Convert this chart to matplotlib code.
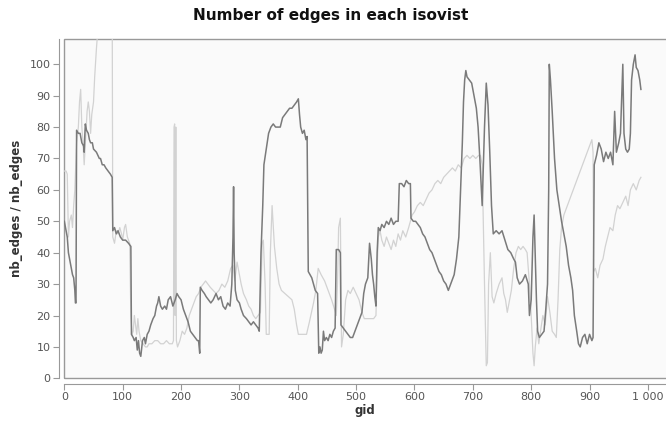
import matplotlib
matplotlib.use('Agg')
import matplotlib.pyplot as plt
from matplotlib.patches import Rectangle
from matplotlib.ticker import FuncFormatter

# dark series: nb_edges
dark_gid = [0, 3, 5, 7, 10, 12, 14, 16, 18, 19, 20, 21, 24, 27, 30, 33, 34, 35, 36, 38, 41, 43, 45, 48, 50,
            55, 60, 62, 65, 68, 71, 75, 79, 82, 83, 86, 89, 92, 96, 100, 105, 110, 114, 115, 118, 120, 123,
            125, 127, 129, 131, 134, 137, 139, 142, 145, 148, 152, 155, 158, 160, 162, 165, 168, 172, 175,
            178, 182, 186, 190, 193, 196, 200, 204, 208, 212, 216, 220, 224, 228, 230, 232, 233, 236, 240,
            243, 247, 251, 255, 260, 264, 268, 272, 276, 280, 284, 287, 289, 290, 291, 293, 296, 300, 303,
            307, 312, 316, 320, 324, 328, 332, 334, 337, 340, 342, 346, 350, 354, 358, 362, 366, 370, 374,
            378, 382, 386, 390, 394, 398, 401, 403, 405, 408, 411, 414, 416, 418, 421, 424, 427, 430, 434,
            436, 438, 440, 442, 444, 446, 449, 452, 455, 458, 461, 464, 466, 470, 473, 474, 478, 482, 486,
            490, 494, 498, 502, 506, 510, 513, 516, 520, 523, 526, 528, 530, 532, 534, 536, 538, 541, 544,
            548, 552, 556, 560, 564, 568, 572, 574, 578, 582, 586, 590, 593, 594, 598, 602, 606, 610, 614,
            618, 622, 626, 630, 634, 638, 642, 646, 650, 654, 658, 660, 664, 668, 672, 676, 678, 680, 682,
            684, 686, 688, 690, 694, 698, 702, 706, 709, 712, 716, 720, 723, 726, 729, 732, 735, 740, 745,
            750, 755, 760, 765, 770, 773, 776, 780, 785, 790, 795, 797, 800, 803, 805, 807, 809, 811, 814,
            818, 822, 825, 828, 830, 831, 833, 836, 840, 844, 848, 852, 856, 860, 864, 868, 871, 874, 878,
            881, 884, 888, 892, 896, 900, 904, 906, 908, 912, 916, 920, 924, 928, 932, 936, 940, 943, 946,
            950, 953, 957, 959, 962, 965, 968, 970, 972, 975, 978, 980, 983, 986, 988]
dark_val = [50, 47, 45, 40, 37, 35, 33, 32, 28, 24, 24, 79, 78, 78, 75, 74, 72, 77, 81, 79, 78, 76, 75, 75, 73,
            72, 70, 70, 68, 68, 67, 66, 65, 64, 47, 48, 46, 47, 45, 44, 44, 43, 42, 14, 13, 12, 13,
            9, 12, 8, 7, 12, 13, 11, 14, 15, 17, 19, 20, 23, 24, 26, 23, 22, 23, 22,
            25, 26, 23, 25, 27, 26, 25, 22, 20, 18, 15, 14, 13, 12, 12, 8, 29, 28, 27,
            26, 25, 24, 25, 27, 25, 26, 23, 22, 24, 23, 30, 45, 61, 40, 28, 25, 24, 22,
            20, 19, 18, 17, 18, 17, 16, 15, 40, 55, 68, 73, 78, 80, 81, 80, 80, 80, 83,
            84, 85, 86, 86, 87, 88, 89, 84, 80, 78, 79, 76, 77, 34, 33, 32, 30, 28, 27,
            8, 10, 8, 9, 15, 12, 13, 12, 14, 13, 15, 16, 41, 41, 40, 17, 16, 15, 14,
            13, 13, 15, 17, 19, 21, 27, 30, 32, 43, 38, 33, 30, 26, 23, 40, 48, 47, 49,
            48, 50, 49, 51, 49, 50, 50, 62, 62, 61, 63, 62, 62, 51, 50, 50, 49, 48, 46,
            45, 43, 41, 40, 38, 36, 34, 33, 31, 30, 28, 29, 31, 33, 38, 45, 55, 65, 75,
            88, 95, 98, 96, 95, 94, 90, 86, 80, 70, 55, 80, 94, 87, 72, 55, 46, 47, 46,
            47, 44, 41, 40, 38, 37, 32, 30, 31, 33, 30, 20, 25, 45, 52, 38, 25, 15, 13,
            14, 15, 22, 30, 60, 100, 95, 85, 70, 60, 55, 50, 46, 42, 36, 32, 28, 20, 15,
            11, 10, 13, 14, 11, 14, 12, 13, 68, 71, 75, 73, 69, 72, 70, 72, 68, 85, 72,
            75, 78, 100, 78, 73, 72, 73, 78, 95, 100, 103, 99, 98, 95, 92]

# light series
light_gid = [0, 3, 5, 7, 9, 12, 14, 16, 18, 21, 24, 26, 28, 30, 32, 34, 36, 39, 41, 43, 45, 47, 50, 52, 55,
             57, 60, 70, 80, 82, 83, 86, 89, 92, 95, 98, 100, 103, 105, 108, 112, 114, 116, 118, 120, 122,
             124, 126, 128, 131, 135, 139, 142, 145, 150, 155, 160, 165, 170, 175, 180, 185, 187, 188, 189,
             190, 191, 192, 194, 198, 202, 206, 210, 214, 218, 222, 226, 230, 234, 238, 242, 246, 250, 255,
             260, 265, 270, 275, 280, 285, 289, 292, 296, 300, 303, 307, 312, 316, 320, 324, 328, 332, 336,
             339, 341, 344, 346, 351, 353, 356, 360, 364, 368, 372, 378, 384, 390, 394, 398, 401, 415, 420,
             427, 431, 435, 440, 446, 452, 458, 463, 466, 468, 470, 473, 475, 478, 482, 486, 490, 495, 500,
             505, 510, 514, 520, 530, 534, 536, 538, 541, 544, 548, 552, 556, 560, 564, 568, 572, 576, 580,
             585, 590, 596, 600, 605, 610, 615, 620, 625, 630, 635, 640, 645, 650, 655, 660, 665, 670, 675,
             680, 685, 690, 695, 700, 705, 710, 713, 716, 720, 723, 725, 727, 730, 733, 736, 740, 745, 750,
             753, 756, 759, 762, 766, 770, 774, 778, 782, 786, 790, 793, 797, 800, 803, 805, 807, 810, 813,
             816, 820, 824, 828, 832, 836, 840, 843, 846, 849, 852, 856, 860, 864, 868, 872, 876, 880, 884,
             888, 892, 896, 900, 904, 906, 907, 910, 914, 918, 923, 927, 931, 935, 940, 944, 948, 952, 957,
             962, 966, 970, 975, 980, 985, 988]
light_val = [66, 66, 65, 45, 50, 52, 48, 55, 60, 75, 80, 88, 92, 80, 75, 68, 75, 85, 88, 85, 78, 84, 88, 96, 105,
             110, 125, 130, 130, 120, 45, 43, 47, 46, 48, 46, 44, 48, 49, 45, 43, 20, 14, 15, 20, 17,
             14, 19, 15, 12, 11, 10, 10, 11, 11, 12, 12, 11, 11, 12, 11, 11, 12, 80, 81,
             20, 80, 12, 10, 12, 15, 14, 16, 20, 22, 24, 26, 27, 29, 30, 31, 30, 29, 28,
             27, 28, 30, 29, 31, 35, 36, 31, 37, 33, 30, 27, 25, 23, 22, 20, 19, 20, 21,
             43, 44, 30, 14, 14, 40, 55, 42, 35, 30, 28, 27, 26, 25, 22, 17, 14, 14, 18,
             24, 28, 35, 33, 31, 28, 25, 22, 20, 30, 48, 51, 10, 14, 25, 28, 27, 29, 27,
             25, 21, 19, 19, 19, 20, 35, 45, 47, 44, 42, 45, 43, 41, 44, 42, 46, 44, 47,
             45, 48, 52, 53, 55, 56, 55, 57, 59, 60, 62, 63, 62, 64, 65, 66, 67, 66, 68,
             67, 70, 71, 70, 71, 70, 71, 71, 68, 30, 4, 5, 30, 40, 26, 24, 27, 30, 32,
             27, 25, 21, 24, 28, 35, 40, 42, 41, 42, 41, 40, 30, 20, 8, 4, 10, 16, 11,
             15, 20, 17, 26, 21, 15, 14, 13, 25, 41, 48, 52, 54, 56, 58, 60, 62, 64, 66,
             68, 70, 72, 74, 76, 72, 34, 35, 32, 36, 38, 42, 45, 48, 47, 52, 55, 54, 56,
             58, 55, 60, 62, 60, 63, 64]

fig = plt.figure(figsize=(6.66, 4.21), dpi=100)
ax = fig.add_axes([0.0966, 0.1014, 0.9034, 0.8056])
ax.set_facecolor('#fafafa')

ax.plot(light_gid, light_val, color='#d2d2d2', lw=0.9)
ax.plot(dark_gid, dark_val, color='#7a7a7a', lw=1.1)

ax.set_xlim(0, 1031)
ax.set_ylim(0, 108)
ax.set_xticks(range(0, 1001, 100))
ax.set_yticks(range(0, 101, 10))
ax.xaxis.set_major_formatter(FuncFormatter(lambda v, p: f'{int(v):,}'.replace(',', ' ')))

for s in ['top', 'right']:
    ax.spines[s].set_visible(False)
for s in ['left', 'bottom']:
    ax.spines[s].set_position(('outward', 4))
    ax.spines[s].set_color('#999999')
ax.tick_params(colors='#999999', labelcolor='#555555', labelsize=8, length=4, pad=2)

# plot area border
ax.add_patch(Rectangle((0, 0), 1.2, 1, transform=ax.transAxes, fill=False,
                       edgecolor='#999999', lw=1.0, clip_on=False))

ax.set_xlabel('gid', fontsize=8.5, fontweight='bold', color='#333333', labelpad=1)
ax.set_ylabel('nb_edges / nb_edges', fontsize=8.5, fontweight='bold', color='#333333', labelpad=5)
fig.suptitle('Number of edges in each isovist', x=0.496, y=0.982, fontsize=11,
             fontweight='bold', color='#111111')

fig.savefig('out.png', dpi=100)
